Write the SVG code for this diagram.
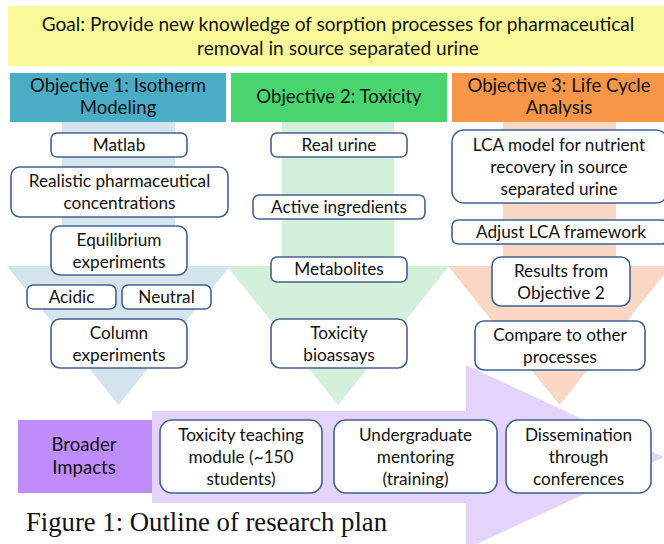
<svg xmlns="http://www.w3.org/2000/svg" width="664" height="544" viewBox="0 0 664 544">
<style>
text{font-family:Lato,"Open Sans","Liberation Sans",sans-serif;fill:#111;text-anchor:middle}
.b{fill:#fff;stroke:#41628f;stroke-width:1.6}
.t{font-size:17.2px}
.h{font-size:18.6px}
.g{font-size:19.1px}
.cap{font-family:"Liberation Serif","Times New Roman",serif;font-size:28px;text-anchor:start}
</style>
<rect width="664" height="544" fill="#fff"/>
<g id="connectors">
<polygon points="62,122 175,122 175,266 230,266 118.5,405 7,266 62,266" fill="#d3e4ec"/>
<polygon points="282,122 394,122 394,266 449,266 338,405 227,266 282,266" fill="#d2f0da"/>
<polygon points="503,122 616,122 616,266 671,266 559.5,405 448,266 503,266" fill="#fad6c4"/>
<polygon points="152,411 466,411 466,365 664,457 466,549 466,503 152,503" fill="#e4d3fb"/>
</g>
<g id="goal">
<rect x="8" y="6" width="660" height="60" fill="#fafa9a"/>
<text class="g" x="338" y="31">Goal: Provide new knowledge of sorption processes for pharmaceutical</text>
<text class="g" x="338" y="55">removal in source separated urine</text>
</g>
<g id="obj1">
<rect x="10" y="73" width="216" height="49" fill="#4bacc6"/>
<text class="h" x="118" y="92">Objective 1: Isotherm</text>
<text class="h" x="118" y="114">Modeling</text>
</g>
<g id="obj2">
<rect x="231" y="73" width="216" height="49" fill="#48d46e"/>
<text class="h" x="339" y="103">Objective 2: Toxicity</text>
</g>
<g id="obj3">
<rect x="452" y="73" width="216" height="49" fill="#f79646"/>
<text class="h" x="559" y="92">Objective 3: Life Cycle</text>
<text class="h" x="559" y="114">Analysis</text>
</g>
<g id="matlab"><rect class="b" x="51" y="133" width="136" height="24" rx="6"/><text class="t" x="119" y="151">Matlab</text></g>
<g id="realistic"><rect class="b" x="11" y="167" width="217" height="50" rx="9"/><text class="t" x="119.5" y="187">Realistic pharmaceutical</text><text class="t" x="119.5" y="209">concentrations</text></g>
<g id="equilibrium"><rect class="b" x="51" y="226" width="136" height="49" rx="9"/><text class="t" x="119" y="246">Equilibrium</text><text class="t" x="119" y="268">experiments</text></g>
<g id="acidic"><rect class="b" x="27" y="285" width="89" height="24" rx="6"/><text class="t" x="71.5" y="303">Acidic</text></g>
<g id="neutral"><rect class="b" x="122" y="285" width="89" height="24" rx="6"/><text class="t" x="166.5" y="303">Neutral</text></g>
<g id="column"><rect class="b" x="51" y="319" width="136" height="49" rx="9"/><text class="t" x="119" y="339">Column</text><text class="t" x="119" y="361">experiments</text></g>
<g id="realurine"><rect class="b" x="271" y="133" width="136" height="24" rx="6"/><text class="t" x="339" y="151">Real urine</text></g>
<g id="active"><rect class="b" x="253" y="195" width="172" height="24" rx="6"/><text class="t" x="339" y="213">Active ingredients</text></g>
<g id="metabolites"><rect class="b" x="271" y="257" width="136" height="25" rx="6"/><text class="t" x="339" y="275">Metabolites</text></g>
<g id="bioassays"><rect class="b" x="271" y="319" width="136" height="49" rx="9"/><text class="t" x="339" y="339">Toxicity</text><text class="t" x="339" y="361">bioassays</text></g>
<g id="lcamodel"><rect class="b" x="452" y="130" width="216" height="73" rx="12"/><text class="t" x="559" y="151">LCA model for nutrient</text><text class="t" x="559" y="173">recovery in source</text><text class="t" x="559" y="195">separated urine</text></g>
<g id="adjust"><rect class="b" x="452" y="220" width="216" height="24" rx="6"/><text class="t" x="561" y="238">Adjust LCA framework</text></g>
<g id="results"><rect class="b" x="492" y="257" width="138" height="49" rx="9"/><text class="t" x="561" y="277">Results from</text><text class="t" x="561" y="299">Objective 2</text></g>
<g id="compare"><rect class="b" x="475" y="321" width="170" height="49" rx="9"/><text class="t" x="560" y="341">Compare to other</text><text class="t" x="560" y="363">processes</text></g>
<g id="broader"><rect x="18" y="420" width="134" height="73" fill="#c08cfa"/><text class="h" x="84" y="451">Broader</text><text class="h" x="84" y="474">Impacts</text></g>
<g id="teaching"><rect class="b" x="160" y="420" width="162" height="73" rx="12"/><text class="t" x="241" y="441">Toxicity teaching</text><text class="t" x="241" y="463">module (~150</text><text class="t" x="241" y="485">students)</text></g>
<g id="mentoring"><rect class="b" x="334" y="420" width="163" height="73" rx="12"/><text class="t" x="415.5" y="441">Undergraduate</text><text class="t" x="415.5" y="463">mentoring</text><text class="t" x="415.5" y="485">(training)</text></g>
<g id="dissemination"><rect class="b" x="506" y="420" width="145" height="73" rx="12"/><text class="t" x="578.5" y="441">Dissemination</text><text class="t" x="578.5" y="463">through</text><text class="t" x="578.5" y="485">conferences</text></g>
<text class="cap" x="26" y="531" textLength="361" lengthAdjust="spacingAndGlyphs">Figure 1: Outline of research plan</text>
</svg>
